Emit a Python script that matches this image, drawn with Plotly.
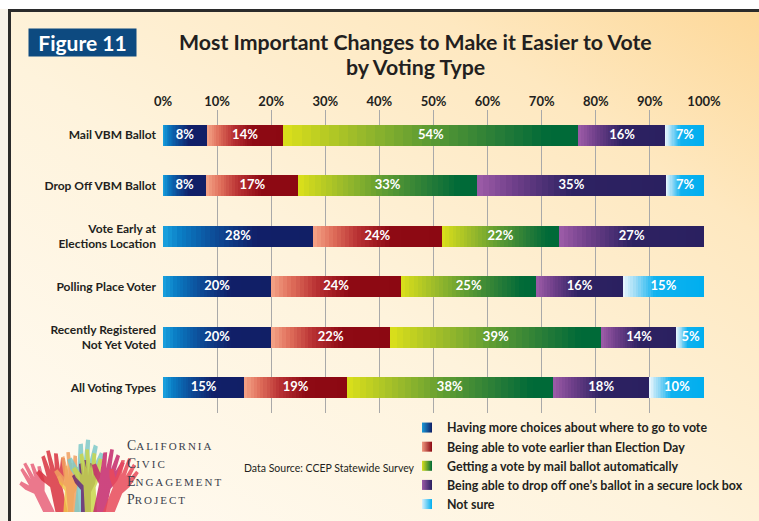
import base64
import plotly.graph_objects as go

# ---------------- data ----------------
categories = [
    "Mail VBM Ballot",
    "Drop Off VBM Ballot",
    "Vote Early at<br>Elections Location",
    "Polling Place Voter",
    "Recently Registered<br>Not Yet Voted",
    "All Voting Types",
]
series_names = [
    "Having more choices about where to go to vote",
    "Being able to vote earlier than Election Day",
    "Getting a vote by mail ballot automatically",
    "Being able to drop off one\u2019s ballot in a secure lock box",
    "Not sure",
]
more_choices = [8, 8, 28, 20, 20, 15]
vote_earlier = [14, 17, 24, 24, 22, 19]
mail_automatic = [54, 33, 22, 25, 39, 38]
drop_off_box = [16, 35, 27, 16, 14, 18]
not_sure = [7, 7, 0, 15, 5, 10]
tick_values = [0, 10, 20, 30, 40, 50, 60, 70, 80, 90, 100]
tick_labels = [f"{v}%" for v in tick_values]

series_values = [more_choices, vote_earlier, mail_automatic, drop_off_box, not_sure]

# ---------------- styling ----------------
FONT = "Lato"
DARK = "#231f20"
gradients = [
    [(0, "#1aa3e0"), (0.12, "#0a7cc4"), (0.35, "#0d4a96"), (0.62, "#111f68"), (1, "#111f66")],
    [(0, "#f5a487"), (0.15, "#e0705c"), (0.35, "#b83032"), (0.6, "#8e0a14"), (1, "#8c0812")],
    [(0, "#dce01a"), (0.25, "#9cbb2a"), (0.5, "#5a9a33"), (0.75, "#237a38"), (0.9, "#006a38"), (1, "#006a38")],
    [(0, "#9e5ca8"), (0.2, "#6f3f8a"), (0.5, "#2e2262"), (1, "#2a2060")],
    [(0, "#eef8fd"), (0.15, "#9edcf6"), (0.4, "#10b2ef"), (1, "#00aeef")],
]
legend_light = ["#1a9ad8", "#f19a80", "#d8df1e", "#9c5aa6", "#d8f0fb"]
legend_dark = ["#101f66", "#8c0812", "#006a38", "#2a2060", "#00aeef"]

W, H = 759, 521
L, R, T, B = 163, 55, 110, 108
PW, PH = W - L - R, H - T - B


def fx(px):
    return (px - L) / PW


def fy(py):
    return (H - B - py) / PH


def hex_to_rgb(h):
    h = h.lstrip("#")
    return tuple(int(h[i:i + 2], 16) for i in (0, 2, 4))


def interp(stops, t):
    for (t0, c0), (t1, c1) in zip(stops[:-1], stops[1:]):
        if t0 <= t <= t1:
            f = 0 if t1 == t0 else (t - t0) / (t1 - t0)
            a, b = hex_to_rgb(c0), hex_to_rgb(c1)
            return "rgb(%d,%d,%d)" % tuple(round(a[i] + (b[i] - a[i]) * f) for i in range(3))
    return stops[-1][1]


# normalise each row to 100 %
totals = [sum(s[r] for s in series_values) for r in range(len(categories))]
norm = [[s[r] / totals[r] * 100 for r in range(len(categories))] for s in series_values]

fig = go.Figure()
K = 32  # gradient steps per segment
for si, vals in enumerate(norm):
    for k in range(K):
        fig.add_trace(go.Bar(
            y=categories,
            x=[v / K for v in vals],
            orientation="h",
            marker=dict(color=interp(gradients[si], (k + 0.5) / K), line=dict(width=0)),
            showlegend=False,
            hoverinfo="skip",
        ))

# value labels at segment centres
lab_x, lab_y, lab_t = [], [], []
for r, cat in enumerate(categories):
    cum = 0
    for si in range(len(series_values)):
        w = norm[si][r]
        if series_values[si][r] > 0:
            lab_x.append(cum + w / 2)
            lab_y.append(cat)
            lab_t.append(f"{series_values[si][r]}%")
        cum += w
fig.add_trace(go.Scatter(
    x=lab_x, y=lab_y, text=lab_t, mode="text",
    textfont=dict(family=FONT, size=13, color="white", weight="bold"),
    showlegend=False, hoverinfo="skip", cliponaxis=False,
))

# legend entries
for si, name in enumerate(series_names):
    fig.add_trace(go.Scatter(
        x=[None], y=[None], mode="markers", name=name,
        marker=dict(symbol="square", size=10, color=legend_light[si],
                    gradient=dict(type="horizontal", color=legend_dark[si])),
    ))

# ---------------- background (SVG) ----------------
hand = ("M-5,0 L-5,-24 L-11,-31 L-14,-38 L-11,-40 L-6,-33 L-7,-50 L-4,-51 L-2,-38 "
        "L-2,-54 L1,-54 L2,-38 L4,-51 L7,-50 L6,-37 L9,-46 L12,-45 L9,-30 L5,-22 L5,0 Z")
hands = [
    (50, -26, 1.05, "#e8607a"), (62, -12, 1.2, "#d8323f"), (68, 4, 0.95, "#f2c44a"),
    (74, -5, 1.15, "#f0a060"), (81, 6, 1.38, "#7ec9c9"), (86, 0, 1.0, "#6b2a70"),
    (91, -3, 1.2, "#c9d64c"), (99, 12, 1.22, "#c4286c"), (108, 22, 1.1, "#e84a5a"),
]
hand_svg = "".join(
    f'<path d="{hand}" fill="{c}" fill-opacity="0.85" transform="translate({x},514) rotate({a}) scale({s})"/>'
    for x, a, s, c in hands
)
svg = f'''<svg xmlns="http://www.w3.org/2000/svg" width="759" height="521" viewBox="0 0 759 521" preserveAspectRatio="none">
<defs>
<linearGradient id="bg" x1="0" y1="1" x2="1" y2="0">
<stop offset="0" stop-color="#fffbf3"/><stop offset="0.45" stop-color="#fef3dc"/>
<stop offset="0.78" stop-color="#fee8c0"/><stop offset="1" stop-color="#fdd899"/>
</linearGradient>
<clipPath id="cp"><rect x="0" y="0" width="759" height="512"/></clipPath>
</defs>
<rect x="0" y="0" width="759" height="521" fill="#ffffff"/>
<rect x="0" y="9" width="9" height="512" fill="#f8f3ea"/>
<rect x="10" y="11" width="749" height="510" fill="url(#bg)"/>
<line x1="8" y1="10.5" x2="759" y2="10.5" stroke="#2b2b2b" stroke-width="3"/>
<line x1="9.5" y1="9" x2="9.5" y2="521" stroke="#2b2b2b" stroke-width="3"/>
<g clip-path="url(#cp)">{hand_svg}</g>
</svg>'''
svg_uri = "data:image/svg+xml;base64," + base64.b64encode(svg.encode()).decode()

annotations = [
    dict(text="Figure 11", x=fx(28), y=fy(28), xref="paper", yref="paper",
         xanchor="left", yanchor="top", showarrow=False, width=105, height=25, borderpad=1,
         bgcolor="#0d4a80", font=dict(family=FONT, size=21, color="white", weight="bold")),
    dict(text="Most Important Changes to Make it Easier to Vote",
         x=fx(415), y=fy(42), xref="paper", yref="paper", xanchor="center", yanchor="middle",
         showarrow=False, font=dict(family=FONT, size=21.3, color=DARK, weight="bold")),
    dict(text="by Voting Type",
         x=fx(415), y=fy(67), xref="paper", yref="paper", xanchor="center", yanchor="middle",
         showarrow=False, font=dict(family=FONT, size=21.3, color=DARK, weight="bold")),
    dict(text="Data Source: CCEP Statewide Survey", x=fx(242), y=fy(468), xref="paper", yref="paper",
         xanchor="left", yanchor="middle", showarrow=False,
         font=dict(family=FONT, size=10.5, color=DARK)),
]
logo_lines = [("C", "ALIFORNIA", 445), ("C", "IVIC", 463), ("E", "NGAGEMENT", 481), ("P", "ROJECT", 499)]
for big, small, yy in logo_lines:
    annotations.append(dict(
        text=f"{big}<span style='font-size:11px;letter-spacing:2px'>{small}</span>",
        x=fx(125), y=fy(yy), xref="paper", yref="paper", xanchor="left", yanchor="middle",
        showarrow=False, font=dict(family="Liberation Serif", size=13.8, color="#3a3f4c"),
    ))

fig.update_layout(
    width=W, height=H,
    barmode="stack", bargap=0.584,
    margin=dict(l=L, r=R, t=T, b=B, pad=0, autoexpand=False),
    paper_bgcolor="white", plot_bgcolor="rgba(0,0,0,0)",
    images=[dict(source=svg_uri, xref="paper", yref="paper", x=fx(0), y=fy(0),
                 sizex=W / PW, sizey=H / PH, sizing="stretch",
                 xanchor="left", yanchor="top", layer="below")],
    xaxis=dict(side="top", range=[0, 100], tickvals=tick_values, ticktext=tick_labels,
               showgrid=True, gridcolor="#a9a9a9", gridwidth=1, zeroline=False, showline=False,
               ticks="", tickfont=dict(family=FONT, size=13, color=DARK, weight="bold"), fixedrange=True),
    yaxis=dict(autorange="reversed", showgrid=False, zeroline=False, showline=False, ticks="",
               ticklabelstandoff=6,
               tickfont=dict(family=FONT, size=12, color=DARK, weight="bold"), fixedrange=True),
    legend=dict(xref="container", yref="container", x=407 / W, y=1 - 413 / H,
                xanchor="left", yanchor="top", bgcolor="rgba(0,0,0,0)", traceorder="normal",
                font=dict(family=FONT, size=12.4, color=DARK, weight="bold"), tracegroupgap=0,
                itemclick=False, itemdoubleclick=False),
    annotations=annotations,
    showlegend=True,
)

fig.write_html("out.html", config={"displayModeBar": False},
               post_script="document.body.style.margin='0';document.body.style.overflow='hidden';")
